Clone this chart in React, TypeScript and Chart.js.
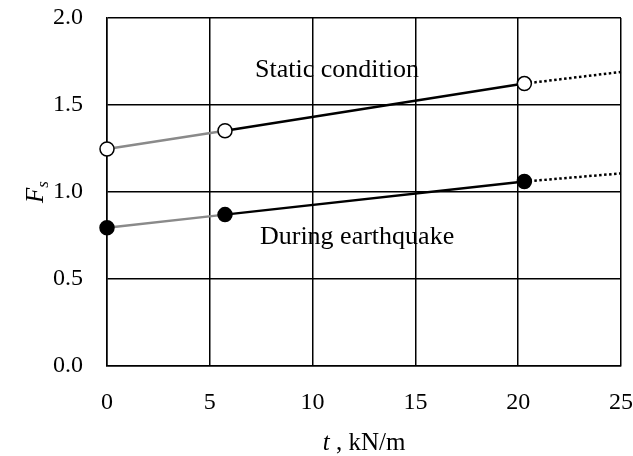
import React, { useEffect, useRef } from "react";
import { Chart, registerables } from "chart.js";

Chart.register(...registerables);

const tValues = [0, 5.74, 20.3, 25];
const staticFs = [1.247, 1.352, 1.623, 1.69];
const quakeFs = [0.795, 0.87, 1.06, 1.107];
const pointSizes = [7, 7, 7, 0];
const xTicks = [0, 5, 10, 15, 20, 25];
const yTicks = [0, 0.5, 1.0, 1.5, 2.0];
const staticLabel = "Static condition";
const quakeLabel = "During earthquake";
const staticLabelAt = [7.2, 1.659];
const quakeLabelAt = [7.44, 0.699];

const FONT = "'Liberation Serif', 'Times New Roman', serif";

function segColor(ctx: any) {
  return ctx.p0DataIndex === 0 ? "#8a8a8a" : "#000000";
}
function segDash(ctx: any) {
  return ctx.p0DataIndex === 2 ? [2.5, 2.5] : undefined;
}

export default function App() {
  const ref = useRef<HTMLCanvasElement | null>(null);
  useEffect(() => {
    if (!ref.current) return;
    const textPlugin = {
      id: "texts",
      afterDraw(chart: any) {
        const c = chart.ctx;
        const xs = chart.scales.x;
        const ys = chart.scales.y;
        c.save();
        c.fillStyle = "#000";
        c.textBaseline = "alphabetic";
        c.textAlign = "left";
        c.font = `26px ${FONT}`;
        c.fillText(staticLabel, xs.getPixelForValue(staticLabelAt[0]), ys.getPixelForValue(staticLabelAt[1]));
        c.fillText(quakeLabel, xs.getPixelForValue(quakeLabelAt[0]), ys.getPixelForValue(quakeLabelAt[1]));
        // x title
        const area = chart.chartArea;
        const cx = (area.left + area.right) / 2;
        const ty = 450;
        c.font = `italic 25px ${FONT}`;
        const tW = c.measureText("t").width;
        c.font = `25px ${FONT}`;
        const rest = " , kN/m";
        const rW = c.measureText(rest).width;
        const start = cx - (tW + rW) / 2;
        c.font = `italic 25px ${FONT}`;
        c.fillText("t", start, ty);
        c.font = `25px ${FONT}`;
        c.fillText(rest, start + tW, ty);
        // y title
        c.translate(43, (area.top + area.bottom) / 2);
        c.rotate(-Math.PI / 2);
        c.font = `italic 25px ${FONT}`;
        const fW = c.measureText("F").width;
        c.font = `italic 17px ${FONT}`;
        const sW = c.measureText("s").width;
        const s0 = -(fW + sW) / 2;
        c.font = `italic 25px ${FONT}`;
        c.fillText("F", s0, 0);
        c.font = `italic 17px ${FONT}`;
        c.fillText("s", s0 + fW, 5);
        c.restore();
      },
    };
    const chart = new Chart(ref.current, {
      type: "line",
      data: {
        datasets: [
          {
            label: "Static",
            data: tValues.map((t, i) => ({ x: t, y: staticFs[i] })),
            borderColor: "#000",
            borderWidth: 2.5,
            clip: false,
            pointRadius: pointSizes,
            pointBackgroundColor: "#fff",
            pointBorderColor: "#000",
            pointBorderWidth: 1.5,
            segment: { borderColor: segColor, borderDash: segDash },
          },
          {
            label: "Earthquake",
            data: tValues.map((t, i) => ({ x: t, y: quakeFs[i] })),
            borderColor: "#000",
            borderWidth: 2.5,
            clip: false,
            pointRadius: pointSizes,
            pointBackgroundColor: "#000",
            pointBorderColor: "#000",
            pointBorderWidth: 1.5,
            segment: { borderColor: segColor, borderDash: segDash },
          },
        ],
      },
      options: {
        animation: false,
        responsive: true,
        maintainAspectRatio: false,
        layout: { padding: { top: 18, right: 12, left: 0, bottom: 0 } },
        plugins: { legend: { display: false }, tooltip: { enabled: false } },
        scales: {
          x: {
            type: "linear",
            min: 0,
            max: 25,
            afterBuildTicks: (s: any) => {
              s.ticks = xTicks.map((v) => ({ value: v }));
            },
            afterFit: (s: any) => {
              s.height = 90;
              s.paddingLeft = 0;
              s.paddingRight = 0;
            },
            grid: { color: "#000", lineWidth: 1.5, drawTicks: false },
            border: { color: "#000", width: 1.5 },
            ticks: {
              padding: 22,
              color: "#000",
              font: { family: FONT, size: 24 },
              maxRotation: 0,
            },
          },
          y: {
            type: "linear",
            min: 0,
            max: 2,
            afterBuildTicks: (s: any) => {
              s.ticks = yTicks.map((v) => ({ value: v }));
            },
            afterFit: (s: any) => {
              s.width = 107;
              s.paddingTop = 0;
              s.paddingBottom = 0;
            },
            grid: { color: "#000", lineWidth: 1.5, drawTicks: false },
            border: { color: "#000", width: 1.5 },
            ticks: {
              padding: 24,
              color: "#000",
              font: { family: FONT, size: 24 },
              callback: (v: any) => Number(v).toFixed(1),
            },
          },
        },
      },
      plugins: [textPlugin],
    } as any);
    return () => chart.destroy();
  }, []);
  return (
    <div style={{ position: "fixed", left: 0, top: 0, width: 633, height: 456, background: "#fff" }}>
      <canvas ref={ref} />
    </div>
  );
}
